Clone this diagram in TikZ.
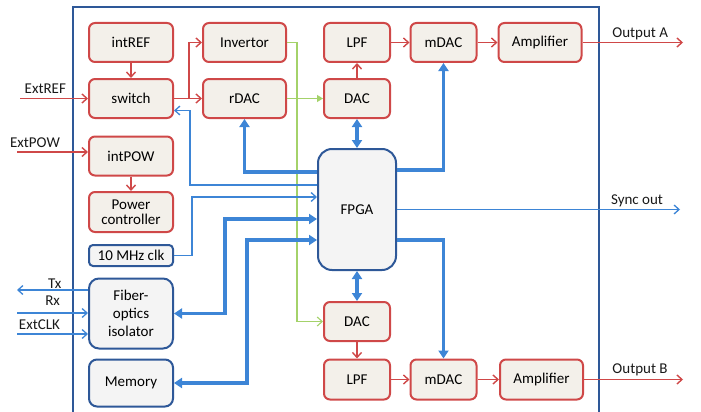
\documentclass[tikz,border=0pt]{standalone}
\usepackage{fontspec}
\setmainfont{Carlito}
\usetikzlibrary{arrows.meta}

\definecolor{boxred}{RGB}{207,72,72}
\definecolor{boxfill}{RGB}{243,240,234}
\definecolor{boxblue}{RGB}{46,88,152}
\definecolor{fpgafill}{RGB}{244,244,244}
\definecolor{wireblue}{RGB}{61,133,214}
\definecolor{wiregreen}{RGB}{164,210,106}

\tikzset{
  redbox/.style={draw=boxred, fill=boxfill, line width=2pt, rounded corners=6pt,
    minimum width=84pt, minimum height=39pt, inner sep=0pt, align=center},
  smallred/.style={redbox, minimum width=66pt},
  bluebox/.style={draw=boxblue, fill=fpgafill, line width=2pt, rounded corners=8pt,
    minimum width=84pt, inner sep=0pt, align=center},
  redwire/.style={draw=boxred, line width=1.4pt, >={Straight Barb[length=5pt,width=9pt]}},
  thinwire/.style={draw=wireblue, line width=1.3pt, >={Straight Barb[length=5pt,width=9pt]}},
  thickwire/.style={draw=wireblue, line width=3.2pt, >={Triangle[length=8pt,width=10pt]}},
  greenwire/.style={draw=wiregreen, line width=1.1pt, >={Straight Barb[length=5pt,width=9pt]}},
  lbl/.style={inner sep=4pt, text=black!90}
}

\begin{document}
\begin{tikzpicture}[x=1pt, y=-1pt, node distance=56pt, font=\fontsize{15}{18}\selectfont]
  \useasboundingbox (0,0) rectangle (701,412);
  \draw[boxblue, line width=2.5pt] (73,412) -- (73,7) -- (599,7) -- (599,412);

  % left column
  \node[redbox] (intREF) at (131,42.5) {intREF};
  \node[redbox, below of=intREF] (switch) {switch};
  \node[redbox, node distance=113.5pt, right of=intREF, minimum width=83pt] (Invertor) {Invertor};
  \node[redbox, below of=Invertor, minimum width=83pt] (rDAC) {rDAC};
  \node[redbox] (intPOW) at (131,156) {intPOW};
  \node[redbox, below of=intPOW, minimum height=40pt] (power) {Power\\[-3pt]controller};
  \node[bluebox, minimum height=21pt, rounded corners=4pt] (clk) at (131,255.5) {10 MHz clk};
  \node[bluebox, minimum height=70pt, rounded corners=10pt] (fiber) at (131,313.5) {Fiber-\\optics\\isolator};
  \node[bluebox, minimum height=47pt] (memory) at (131,383) {Memory};

  % channel A
  \node[smallred] (lpfA) at (357,42.5) {LPF};
  \node[smallred, node distance=86.5pt, right of=lpfA] (mdacA) {mDAC};
  \node[redbox, node distance=96.5pt, right of=mdacA, minimum width=83pt] (ampA) {Amplifier};
  \node[smallred, below of=lpfA] (dacA) {DAC};

  \node[bluebox, minimum width=78pt, minimum height=121pt, rounded corners=14pt] (FPGA) at (357,209.5) {FPGA};

  % channel B
  \node[smallred] (dacB) at (357,321.5) {DAC};
  \node[smallred, node distance=58pt, below of=dacB, minimum height=40pt] (lpfB) {LPF};
  \node[smallred, node distance=86.5pt, right of=lpfB, minimum height=40pt] (mdacB) {mDAC};
  \node[redbox, node distance=98pt, right of=mdacB, minimum width=83pt, minimum height=40pt] (ampB) {Amplifier};

  \coordinate (extREF) at (20,98.5);
  \coordinate (extPOW) at (17,152);
  \coordinate (tx) at (17,290);
  \coordinate (rx) at (17,313);
  \coordinate (extCLK) at (17,334);
  \coordinate (outA) at (683,42.5);
  \coordinate (sync) at (680,209.5);
  \coordinate (outB) at (683,379.5);

  % red paths
  \draw[redwire, ->] (extREF) -- node[lbl, pos=0, anchor=south west]{ExtREF} (switch);
  \draw[redwire, ->] (intREF) -- (switch);
  \draw[redwire, ->] (switch) -- (rDAC);
  \draw[redwire, ->] (switch.east) -- ++(15,0) |- (Invertor);
  \draw[redwire, ->] (extPOW) -- node[lbl, pos=0.67, anchor=south east]{ExtPOW} (extPOW -| intPOW.west);
  \draw[redwire, ->] (intPOW) -- (power);
  \draw[redwire, ->] (dacA) -- (lpfA);
  \draw[redwire, ->] (lpfA) -- (mdacA);
  \draw[redwire, ->] (mdacA) -- (ampA);
  \draw[redwire, ->] (ampA) -- node[lbl, pos=0.25, anchor=south west, yshift=-2pt]{Output A} (outA);
  \draw[redwire, ->] (dacB) -- (lpfB);
  \draw[redwire, ->] (lpfB) -- (mdacB);
  \draw[redwire, ->] (mdacB) -- (ampB);
  \draw[redwire, ->] (ampB) -- node[lbl, pos=0.24, anchor=south west, yshift=-1pt]{Output B} (outB);

  % green paths
  \draw[greenwire, -{Triangle[length=6pt,width=7pt]}] (rDAC) -- (dacA);
  \draw[greenwire, ->] (Invertor.east) -- ++(10,0) |- (dacB);

  % blue paths
  \draw[thickwire, <->] (dacA) -- (FPGA);
  \draw[thickwire, <->] (FPGA) -- (dacB);
  \draw[thickwire, ->] ([yshift=-24pt]FPGA.north west) -| (rDAC);
  \draw[thickwire, ->] ([yshift=-22pt]FPGA.north east) -| (mdacA);
  \draw[thickwire, ->] ([yshift=-92pt]FPGA.north east) -| (mdacB);
  \draw[thickwire, <->] (fiber.east) -- ++(51,0) |- ([yshift=-71pt]FPGA.north west);
  \draw[thickwire, <->] (memory.east) -- ++(73,0) |- ([yshift=-92pt]FPGA.north west);
  \draw[thinwire, ->] ([yshift=-37pt]FPGA.north west) -| ([xshift=16pt,yshift=-12pt]switch.east) -- ([yshift=-12pt]switch.east);
  \draw[thinwire, ->] (clk.east) -- ++(18,0) |- ([yshift=-49pt]FPGA.north west);
  \draw[thinwire, ->] (FPGA) -- node[lbl, pos=0.74, anchor=south west, yshift=-2pt]{Sync out} (sync);
  \draw[thinwire, ->] (tx -| fiber.west) -- node[lbl, pos=0.31, anchor=south east, yshift=-3pt]{Tx} (tx);
  \draw[thinwire, ->] (rx) -- node[lbl, pos=0.67, anchor=south east, yshift=3pt]{Rx} (rx -| fiber.west);
  \draw[thinwire, ->] (extCLK) -- node[lbl, pos=0.67, anchor=south east]{ExtCLK} (extCLK -| fiber.west);
\end{tikzpicture}
\end{document}
